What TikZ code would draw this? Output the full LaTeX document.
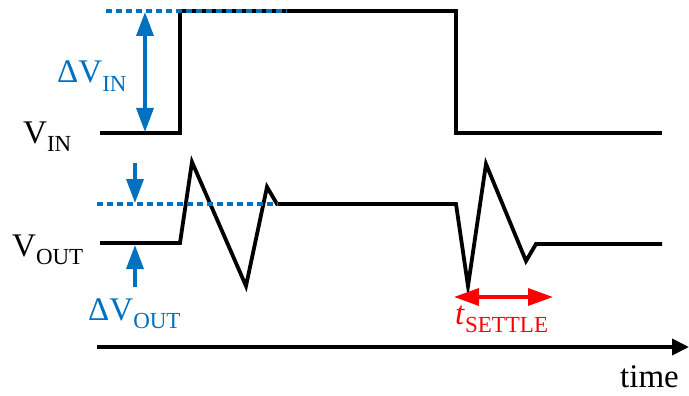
\documentclass[tikz,border=0pt]{standalone}
\usepackage{fontspec}
\setmainfont{Liberation Serif}
\usetikzlibrary{arrows.meta}
\definecolor{myblue}{RGB}{0,112,192}
\definecolor{myred}{RGB}{255,0,0}
\newcommand{\lblsub}[2]{#1\raisebox{-0.26em}{\fontsize{23}{23}\selectfont #2}}
\begin{document}
\begin{tikzpicture}[x=1pt,y=-1pt,
  sig/.style={line width=3.8pt, line join=miter, line cap=butt},
  bdash/.style={myblue, line width=3.5pt, dash pattern=on 6pt off 4pt},
  barrow/.style={myblue, line width=3.5pt, -{Triangle[length=24pt,width=17pt]}},
  bdarrow/.style={myblue, line width=3.5pt, {Triangle[length=24pt,width=17pt]}-{Triangle[length=24pt,width=17pt]}},
  rdarrow/.style={myred, line width=3.5pt, {Triangle[length=25pt,width=17pt]}-{Triangle[length=25pt,width=17pt]}},
  axis/.style={black, line width=3.8pt, -{Triangle[length=17pt,width=16pt]}},
  lbl/.style={inner sep=0pt, font=\fontsize{33}{33}\selectfont}]
\useasboundingbox (0,0) rectangle (689,396);

% V_IN waveform
\coordinate (i0) at (100,133);
\coordinate (i1) at (180,133);
\coordinate (i2) at (180,11);
\coordinate (i3) at (456,11);
\coordinate (i4) at (456,133);
\coordinate (i5) at (662,133);
\draw[sig] (i0) -- (i1) -- (i2) -- (i3) -- (i4) -- (i5);

% V_OUT waveform
\coordinate (o0) at (100,243);
\coordinate (o1) at (180,243);
\coordinate (o2) at (192,162);
\coordinate (o3) at (246,286);
\coordinate (o4) at (267,187);
\coordinate (o5) at (277,204);
\coordinate (o6) at (456,204);
\coordinate (o7) at (468,286);
\coordinate (o8) at (486,164);
\coordinate (o9) at (526,261);
\coordinate (o10) at (536,244);
\coordinate (o11) at (662,244);
\draw[sig] (o0) -- (o1) -- (o2) -- (o3) -- (o4) -- (o5) -- (o6) -- (o7) -- (o8) -- (o9) -- (o10) -- (o11);

% blue dashed reference lines
\coordinate (d1a) at (106,11);
\coordinate (d1b) at (287,11);
\draw[bdash] (d1a) -- (d1b);
\coordinate (d2a) at (97,204);
\coordinate (d2b) at (278,204);
\draw[bdash] (d2a) -- (d2b);

% Delta V_IN arrow
\coordinate (ai0) at (145,12);
\coordinate (ai1) at (145,132);
\draw[bdarrow] (ai0) -- (ai1);

% Delta V_OUT arrows
\coordinate (ao0) at (135,163);
\coordinate (ao1) at (135,203);
\draw[barrow] (ao0) -- (ao1);
\coordinate (ao2) at (135,287);
\coordinate (ao3) at (135,245);
\draw[barrow] (ao2) -- (ao3);

% t_settle arrow
\coordinate (r0) at (454,297);
\coordinate (r1) at (553,297);
\draw[rdarrow] (r0) -- (r1);

% time axis
\coordinate (t0) at (97,347);
\coordinate (t1) at (689,347);
\draw[axis] (t0) -- (t1);

% labels
\node[lbl, anchor=base west] (vin) at (23,143) {\lblsub{V}{IN}};
\node[lbl, anchor=base west] (vout) at (12,256) {\lblsub{V}{OUT}};
\node[lbl, anchor=base west, text=myblue] (dvin) at (57,83) {\lblsub{ΔV}{IN}};
\node[lbl, anchor=base west, text=myblue] (dvout) at (88,320) {\lblsub{ΔV}{OUT}};
\node[lbl, anchor=base west, text=myred] (ts) at (455,324) {\lblsub{\textit{t}}{SETTLE}};
\node[lbl, anchor=base east] (time) at (679,387) {time};
\end{tikzpicture}
\end{document}
